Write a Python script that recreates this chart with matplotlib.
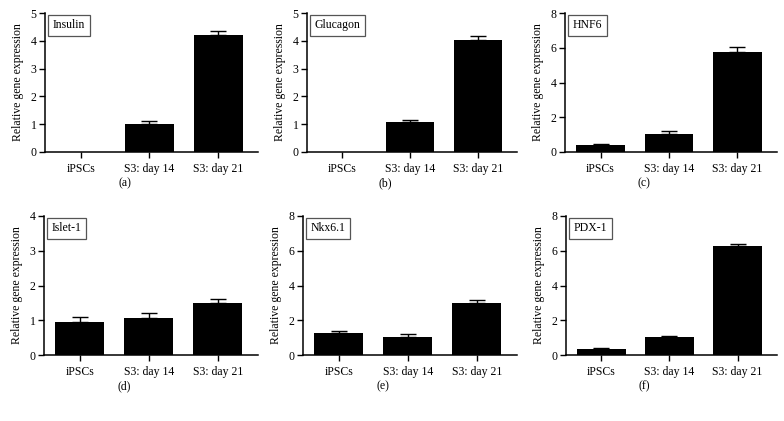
import matplotlib
matplotlib.use("Agg")
import matplotlib.pyplot as plt

plt.rcParams["font.family"] = ["Liberation Serif", "DejaVu Serif"]

categories = ["iPSCs", "S3: day 14", "S3: day 21"]
genes = ["Insulin", "Glucagon", "HNF6", "Islet-1", "Nkx6.1", "PDX-1"]
panel_tags = ["(a)", "(b)", "(c)", "(d)", "(e)", "(f)"]

insulin = [0.0, 1.02, 4.20]
insulin_err = [0.0, 0.08, 0.17]
glucagon = [0.0, 1.07, 4.02]
glucagon_err = [0.0, 0.09, 0.14]
hnf6 = [0.42, 1.05, 5.77]
hnf6_err = [0.05, 0.13, 0.28]
islet1 = [0.96, 1.07, 1.50]
islet1_err = [0.12, 0.14, 0.10]
nkx61 = [1.28, 1.05, 3.02]
nkx61_err = [0.13, 0.18, 0.14]
pdx1 = [0.36, 1.04, 6.28]
pdx1_err = [0.04, 0.06, 0.13]

values = [insulin, glucagon, hnf6, islet1, nkx61, pdx1]
errors = [insulin_err, glucagon_err, hnf6_err, islet1_err, nkx61_err, pdx1_err]
ymax = [5, 5, 8, 4, 8, 8]
ysteps = [1, 1, 2, 1, 2, 2]

W, H = 784, 421
fig = plt.figure(figsize=(W / 100, H / 100), dpi=100)

# axes boxes in pixels: left, right, top, bottom
boxes = [(45, 258, 13, 152), (307, 517, 13, 152), (565, 777, 13, 152),
         (44, 258, 216, 355), (303, 517, 216, 355), (566, 777, 216, 355)]

fs = 8.5
for i, (l, r, t, b) in enumerate(boxes):
    ax = fig.add_axes([l / W, 1 - b / H, (r - l) / W, (b - t) / H])
    x = list(range(len(categories)))
    ax.bar(x, values[i], width=0.71, color="black", linewidth=0, zorder=2)
    # only draw upper error bars where there is an error
    ex = [k for k in x if errors[i][k] > 0]
    ax.errorbar(ex, [values[i][k] for k in ex],
                yerr=[[0] * len(ex), [errors[i][k] for k in ex]], fmt="none",
                ecolor="black", elinewidth=1.0, capsize=5.5, capthick=1.0, zorder=3)
    ax.set_xlim(-0.52, 2.58)
    ax.set_ylim(0, ymax[i])
    ax.set_yticks(range(0, ymax[i] + 1, ysteps[i]))
    ax.set_xticks(x)
    ax.set_xticklabels(categories, fontsize=fs)
    for lab in ax.get_xticklabels():
        lab.set_verticalalignment("baseline")
    ax.tick_params(axis="y", labelsize=fs, length=4, width=1.0, pad=2)
    ax.tick_params(axis="x", length=4, width=1.0, pad=10.5)
    for s in ("top", "right"):
        ax.spines[s].set_visible(False)
    for s in ("left", "bottom"):
        ax.spines[s].set_linewidth(1.1)
    ax.set_ylabel("Relative gene expression", fontsize=fs, labelpad=5)
    ax.text(0.035, 0.955, genes[i], transform=ax.transAxes, fontsize=fs,
            va="top", ha="left",
            bbox=dict(boxstyle="square,pad=0.4", facecolor="white",
                      edgecolor="#555555", linewidth=0.9))
    cx = ((l + r) / 2 - 27) / W
    fig.text(cx, 1 - (b + 31) / H, panel_tags[i], fontsize=fs,
             ha="center", va="center")

fig.savefig("out.png", dpi=100)
